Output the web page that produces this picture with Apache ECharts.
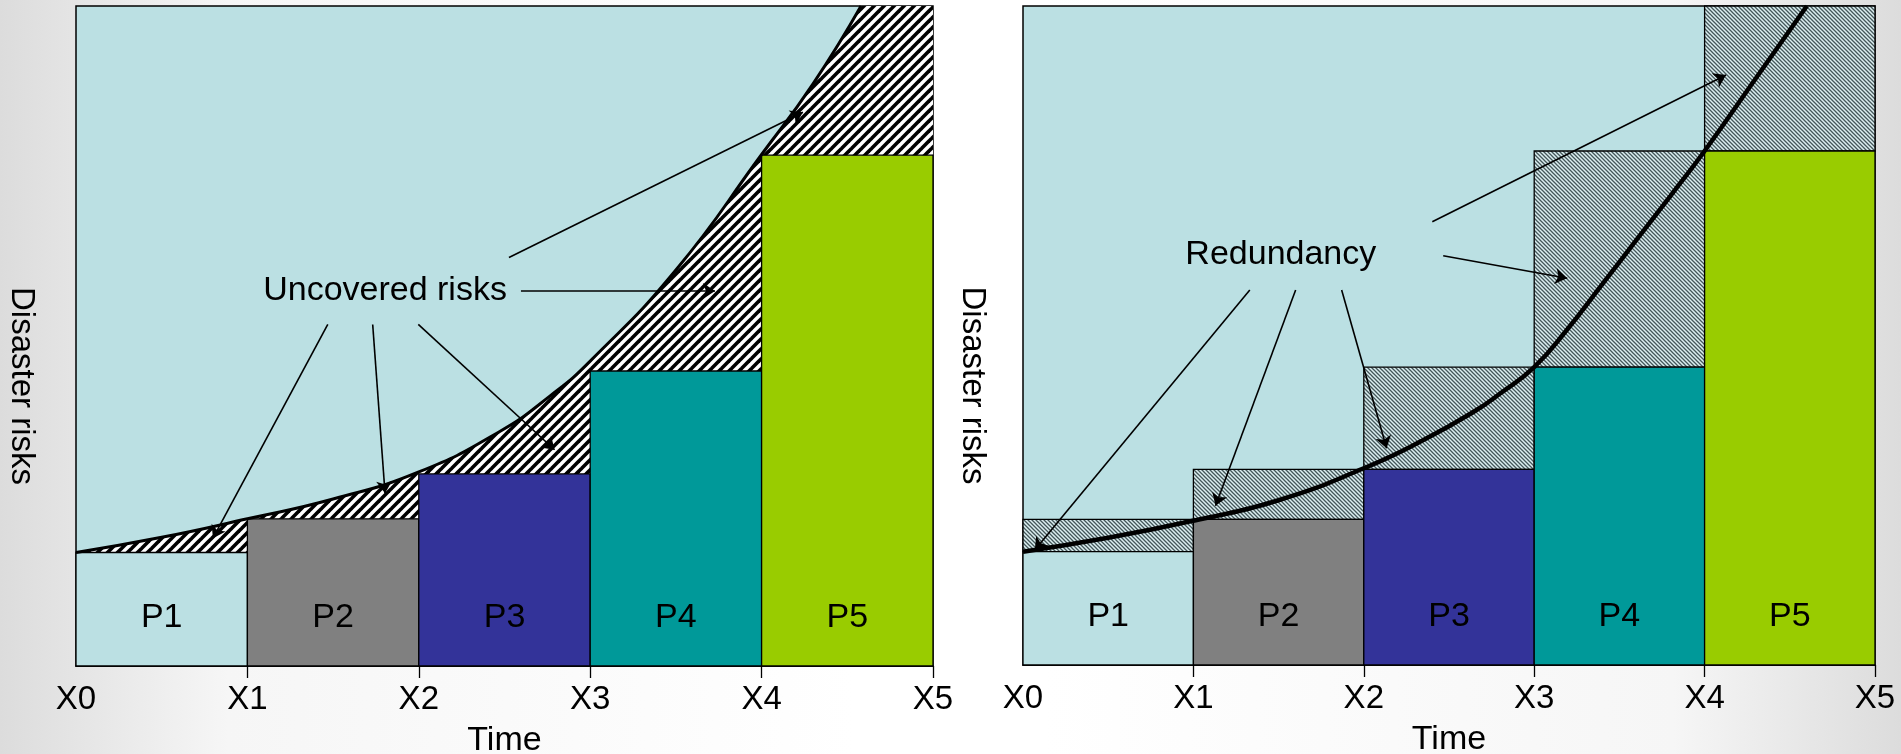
<!DOCTYPE html>
<html><head><meta charset="utf-8">
<script src="https://cdn.jsdelivr.net/npm/echarts@6/dist/echarts.min.js"></script>
<style>
html,body{margin:0;padding:0;width:1901px;height:754px;overflow:hidden;
background:linear-gradient(90deg,#dcdcdc 0%,#f6f6f6 12%,#ffffff 45%,#ffffff 55%,#f6f6f6 88%,#dcdcdc 100%);}
#c{width:1901px;height:754px;}
</style></head><body><div id="c"></div>
<script>
// ---- data ----
const tickLabels = ['X0', 'X1', 'X2', 'X3', 'X4', 'X5'];
const phases = ['P1', 'P2', 'P3', 'P4', 'P5'];
const leftCoverage = [0.172, 0.223, 0.291, 0.447, 0.774];
const rightCoverage = [0.172, 0.221, 0.297, 0.452, 0.780];
const leftRiskT = [0, 0.5, 1, 1.5, 2, 2.47, 2.77, 3, 3.5, 4, 4.3, 4.58];
const leftRiskV = [0.172, 0.195, 0.223, 0.253, 0.294, 0.355, 0.41, 0.462, 0.60, 0.775, 0.882, 1.0];
const rightRiskT = [0, 0.5, 1, 1.5, 2, 2.35, 2.65, 2.8, 3, 3.19, 3.4, 3.6, 3.8, 4, 4.3, 4.6];
const rightRiskV = [0.172, 0.193, 0.219, 0.25, 0.2985, 0.3414, 0.385, 0.412, 0.452, 0.508, 0.578, 0.645, 0.712, 0.78, 0.89, 1.0];
const riskCeiling = 1.0;
// annotation arrows: [fromT, fromV, toT, toV]
const leftArrows = [
  [2.526, 0.619, 4.241, 0.839],
  [2.596, 0.568, 3.728, 0.568],
  [1.469, 0.5175, 0.799, 0.1936],
  [1.731, 0.5175, 1.803, 0.2618],
  [1.997, 0.5175, 2.792, 0.3277]
];
const rightArrows = [
  [2.402, 0.6727, 4.126, 0.8953],
  [2.466, 0.6211, 3.194, 0.5868],
  [1.331, 0.569, 0.069, 0.1745],
  [1.600, 0.569, 1.130, 0.2417],
  [1.870, 0.569, 2.134, 0.3288]
];
const leftNote = {text: 'Uncovered risks', t: 1.803, v: 0.568};
const rightNote = {text: 'Redundancy', t: 1.513, v: 0.622};
const xName = 'Time';
const yName = 'Disaster risks';

// ---- styles ----
const FONT = "'Liberation Sans', Arial, Helvetica, sans-serif";
const barColors = ['#BBE0E3', '#808080', '#333399', '#009999', '#99CC00'];
const skyColor = '#BBE0E3';

function stripes(size, bg, fg, lw, dir) {
  const c = document.createElement('canvas');
  c.width = size; c.height = size;
  const g = c.getContext('2d');
  g.fillStyle = bg; g.fillRect(0, 0, size, size);
  g.strokeStyle = fg; g.lineWidth = lw; g.lineCap = 'square';
  for (let k = -2; k <= 2; k++) {
    g.beginPath();
    if (dir === '/') { g.moveTo(k * size - size, 2 * size); g.lineTo(k * size + 2 * size, -size); }
    else { g.moveTo(k * size - size, -size); g.lineTo(k * size + 2 * size, 2 * size); }
    g.stroke();
  }
  return c;
}
const boldHatch = {image: stripes(10, '#ffffff', '#000000', 3.6, '/'), repeat: 'repeat'};
const fineHatch = {image: stripes(4, '#DCEFF1', '#44575A', 1.3, '\\'), repeat: 'repeat'};

function pairs(ts, vs) { return ts.map((t, i) => [t, vs[i]]); }

function barSeries(idx, coverage, withRedundancy) {
  return {
    type: 'custom', xAxisIndex: idx, yAxisIndex: idx, z: 2, silent: true,
    data: coverage.map((v, i) => [i, v, i < coverage.length - 1 ? coverage[i + 1] : riskCeiling]),
    renderItem: function (params, api) {
      const i = api.value(0), v = api.value(1), nxt = api.value(2);
      const p0 = api.coord([i, 0]), p1 = api.coord([i + 1, v]);
      const children = [];
      if (withRedundancy) {
        const q = api.coord([i + 1, nxt]);
        children.push({type: 'rect', shape: {x: p0[0], y: q[1], width: p1[0] - p0[0], height: p1[1] - q[1]},
          style: {fill: fineHatch, stroke: '#000', lineWidth: 1.3}});
      }
      children.push({type: 'rect', shape: {x: p0[0], y: p1[1], width: p1[0] - p0[0], height: p0[1] - p1[1]},
        style: {fill: barColors[i], stroke: '#000', lineWidth: 1.3}});
      const lp = api.coord([i + 0.5, 0.074]);
      children.push({type: 'text', style: {text: phases[i], x: lp[0], y: lp[1], align: 'center', verticalAlign: 'middle',
        textAlign: 'center', textVerticalAlign: 'middle', fontSize: 34, fontFamily: FONT, fill: '#000'}});
      return {type: 'group', children: children};
    }
  };
}

function curveSeries(idx, data, width, arrows, note) {
  return {
    type: 'line', xAxisIndex: idx, yAxisIndex: idx, z: 3, silent: true,
    data: data, smooth: 0.5, symbol: 'none',
    lineStyle: {color: '#000', width: width},
    markLine: {
      silent: true, animation: false, symbol: ['none', 'arrow'], symbolSize: 12,
      lineStyle: {color: '#000', width: 1.6, type: 'solid'}, label: {show: false},
      data: arrows.map(a => [{coord: [a[0], a[1]]}, {coord: [a[2], a[3]]}])
    },
    markPoint: {
      silent: true, animation: false, symbol: 'rect', symbolSize: 1,
      itemStyle: {color: 'rgba(0,0,0,0)'},
      label: {show: true, position: 'inside', formatter: note.text, fontSize: 34, color: '#000', fontFamily: FONT},
      data: [{coord: [note.t, note.v]}]
    }
  };
}

function xAxis(idx) {
  return {
    type: 'value', gridIndex: idx, min: 0, max: tickLabels.length - 1, interval: 1,
    name: xName, nameLocation: 'middle', nameGap: 58,
    nameTextStyle: {fontSize: 34, color: '#000', fontFamily: FONT},
    axisLine: {show: true, lineStyle: {color: '#000', width: 1.5}},
    axisTick: {show: true, length: 12, lineStyle: {color: '#000', width: 1.3},
      customValues: tickLabels.map((_, i) => i).slice(1)},
    axisLabel: {fontSize: 33, color: '#000', fontFamily: FONT, margin: 17,
      formatter: v => tickLabels[Math.round(v)]},
    splitLine: {show: false}
  };
}
function yAxis(idx, gap) {
  return {
    type: 'value', gridIndex: idx, min: 0, max: 1,
    name: yName, nameLocation: 'middle', nameRotate: -90, nameGap: gap,
    nameTextStyle: {fontSize: 33, color: '#000', fontFamily: FONT, padding: [0, 0, 0, 100]},
    axisLine: {show: false}, axisTick: {show: false}, axisLabel: {show: false}, splitLine: {show: false}
  };
}

const chart = echarts.init(document.getElementById('c'), null, {renderer: 'canvas'});
chart.setOption({
  backgroundColor: 'transparent',
  animation: false,
  textStyle: {fontFamily: FONT},
  grid: [
    {left: 76, right: 968, top: 6, bottom: 88, outerBoundsMode: 'none', containLabel: false,
      show: true, backgroundColor: skyColor, borderColor: '#000', borderWidth: 1.5},
    {left: 1023, right: 26, top: 6, bottom: 89, outerBoundsMode: 'none', containLabel: false,
      show: true, backgroundColor: skyColor, borderColor: '#000', borderWidth: 1.5}
  ],
  xAxis: [xAxis(0), xAxis(1)],
  yAxis: [yAxis(0, 38), yAxis(1, 34)],
  series: [
    {
      type: 'line', xAxisIndex: 0, yAxisIndex: 0, z: 1, silent: true,
      data: pairs(leftRiskT, leftRiskV),
      smooth: 0.5, symbol: 'none',
      lineStyle: {width: 0}, areaStyle: {color: boldHatch, opacity: 1, origin: 'start'},
      markArea: {
        silent: true, animation: false,
        itemStyle: {color: boldHatch, opacity: 1, borderWidth: 0},
        data: [[{coord: [leftRiskT[leftRiskT.length - 1], 0]}, {coord: [tickLabels.length - 1, riskCeiling]}]]
      }
    },
    barSeries(0, leftCoverage, false),
    curveSeries(0, pairs(leftRiskT, leftRiskV), 3, leftArrows, leftNote),
    barSeries(1, rightCoverage, true),
    curveSeries(1, pairs(rightRiskT, rightRiskV), 4.5, rightArrows, rightNote)
  ]
});
</script>
</body></html>
